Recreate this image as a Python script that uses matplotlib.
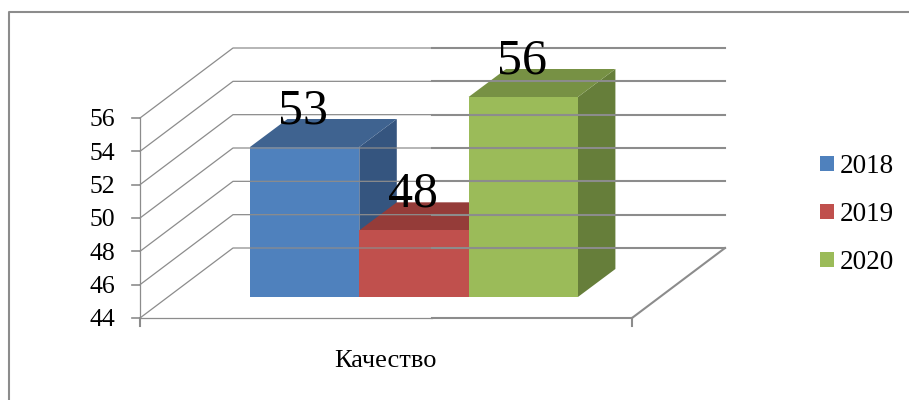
import matplotlib
matplotlib.use('Agg')
import matplotlib.pyplot as plt
from matplotlib.patches import Patch, Polygon

plt.rcParams['font.family'] = ['Liberation Serif', 'DejaVu Serif']

category = 'Качество'
years = ['2018', '2019', '2020']
values = [53, 48, 56]
y_ticks = [44, 46, 48, 50, 52, 54, 56]

front = ['#4F81BD', '#C0504D', '#9BBB59']
top = ['#3F6390', '#953C39', '#779144']
side = ['#35557F', '#7F3230', '#667E3A']
GREY = '#8C8C8C'

# y axis is in chart values, x in pixels; depth is a shear of the two
PX = 200 / 12  # pixels per unit
Y0 = 44
def val_at(py):
    return Y0 + (318 - py) / PX

X_FRONT, X_RIGHT = 140, 632
DX, DY = 93, 70 / PX  # full depth of the floor
BAR_X0, BAR_W = 250, 109.3
BAR_LIFT = val_at(297) - Y0  # bars stand part way back on the floor
BAR_DX, BAR_DY = 37.5, 28 / PX

fig = plt.figure(figsize=(9.09, 4.0), dpi=100)
ax = fig.add_axes([0, 0, 1, 1])
ax.set_xlim(0, 909)
ax.set_ylim(val_at(400), val_at(0))
ax.axis('off')

# outer frame
ax.plot([9, 9, 909], [val_at(400), val_at(12), val_at(12)], color=GREY, lw=1.5)

# walls and grid
mid = 432
for v in y_ticks:
    ax.plot([X_FRONT, X_FRONT + DX, mid], [v, v + DY, v + DY], color=GREY, lw=0.9)
    ax.plot([mid, X_RIGHT + DX], [v + DY, v + DY], color=GREY, lw=1.5)
    ax.plot([X_FRONT - 8, X_FRONT], [v, v], color=GREY, lw=1.2)
    ax.text(115, v, str(v), ha='right', va='center_baseline', fontsize=18.5, color='black')
ax.plot([X_FRONT, X_FRONT], [y_ticks[0], y_ticks[-1]], color=GREY, lw=0.9)

# floor
ax.plot([X_FRONT, mid], [Y0, Y0], color=GREY, lw=0.9)
ax.plot([mid, X_RIGHT], [Y0, Y0], color=GREY, lw=1.5)
ax.plot([X_RIGHT, X_RIGHT + DX], [Y0, Y0 + DY], color=GREY, lw=1.5)
ax.plot([X_FRONT, X_FRONT], [Y0, val_at(326)], color=GREY, lw=1.5)
ax.plot([X_RIGHT, X_RIGHT], [Y0, val_at(326)], color=GREY, lw=1.5)

# bars, left to right so each one covers the side of the previous
base = Y0 + BAR_LIFT
for i, v in enumerate(values):
    x0 = BAR_X0 + i * BAR_W
    x1 = x0 + BAR_W
    h = v + BAR_LIFT
    ax.add_patch(Polygon([(x1, base), (x1 + BAR_DX, base + BAR_DY),
                          (x1 + BAR_DX, h + BAR_DY), (x1, h)], color=side[i], lw=0))
    ax.add_patch(Polygon([(x0, h), (x0 + BAR_DX, h + BAR_DY),
                          (x1 + BAR_DX, h + BAR_DY), (x1, h)], color=top[i], lw=0))
    ax.add_patch(Polygon([(x0, base), (x0, h), (x1, h), (x1, base)], color=front[i], lw=0))

for i, v in enumerate(values):
    x0 = BAR_X0 + i * BAR_W
    ax.text(x0 + BAR_W / 2 - 1.5, v + BAR_LIFT + 23.5 / PX, str(v), ha='center', va='baseline',
            fontsize=36, color='black')

ax.text(385.5, val_at(367), category, ha='center', va='baseline', fontsize=19, color='black')

handles = [Patch(color=c, lw=0) for c in front]
ax.legend(handles, years, loc='upper left', bbox_to_anchor=(820 / 909, 1 - 154 / 400),
          frameon=False, fontsize=19.5, handlelength=0.52, handleheight=0.52,
          handletextpad=0.2, labelspacing=0.85, borderpad=0, borderaxespad=0)

fig.savefig('out.png', dpi=100)
